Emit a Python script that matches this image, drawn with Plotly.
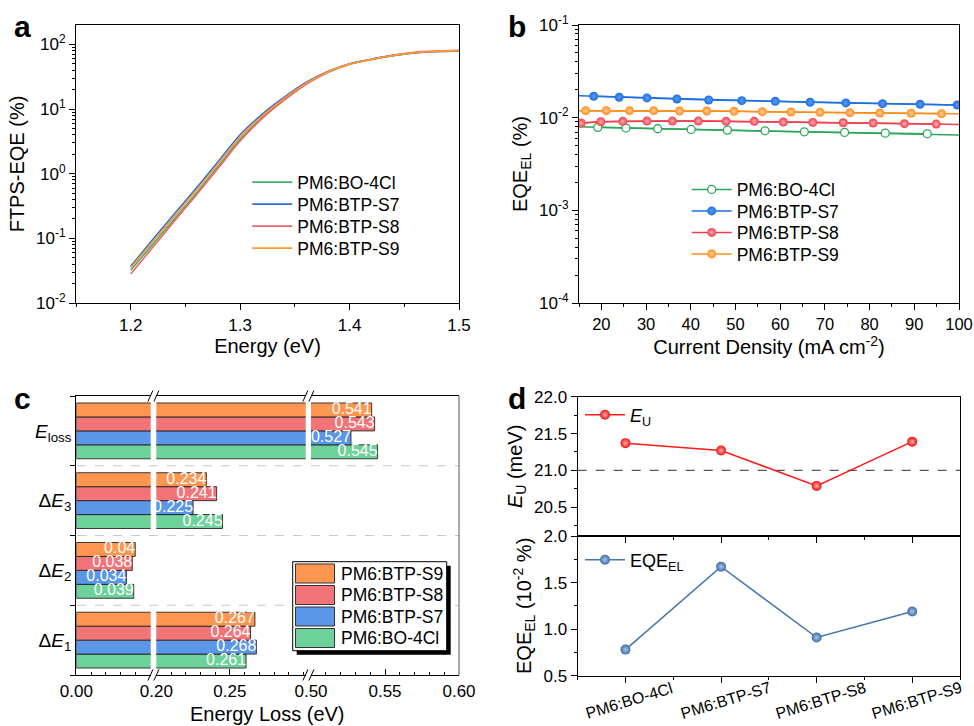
import plotly.graph_objects as go

W, H = 974, 726          # picture size (reference pixel coordinates)
FONT = "Liberation Sans, Arial, Helvetica, sans-serif"

series_names = ["PM6:BO-4Cl", "PM6:BTP-S7", "PM6:BTP-S8", "PM6:BTP-S9"]

# ---------------- Panel a: FTPS-EQE ----------------
ftps_energy = [1.20, 1.22, 1.24, 1.26, 1.28, 1.30, 1.32, 1.34, 1.36, 1.38, 1.40, 1.42, 1.44, 1.46, 1.48, 1.50]
ftps_bo4cl = [0.032, 0.080, 0.20, 0.50, 1.30, 3.4, 7.4, 14.0, 24.5, 37.0, 49.5, 58.5, 67.0, 74.0, 77.5, 79.5]
ftps_s7 = [0.037, 0.095, 0.24, 0.60, 1.55, 4.0, 8.3, 15.1, 25.7, 38.0, 50.1, 58.9, 67.6, 74.1, 77.6, 79.4]
ftps_s8 = [0.028, 0.072, 0.185, 0.47, 1.22, 3.2, 7.1, 13.6, 24.0, 36.8, 49.5, 59.0, 68.5, 75.5, 79.0, 81.0]
ftps_s9 = [0.035, 0.088, 0.22, 0.55, 1.42, 3.7, 7.8, 14.5, 25.0, 37.5, 49.5, 58.5, 67.5, 74.5, 78.0, 80.0]
ftps_tickvals = [0.01, 0.1, 1, 10, 100]
ftps_ticktext = ["10<sup>-2</sup>", "10<sup>-1</sup>", "10<sup>0</sup>", "10<sup>1</sup>", "10<sup>2</sup>"]

# ---------------- Panel b: EQE_EL vs current density ----------------
el_bo4cl_j = [19.2, 25.5, 32.6, 40.1, 48.2, 56.6, 65.4, 74.4, 83.5, 92.9]
el_bo4cl_eqe = [0.00786, 0.00773, 0.00759, 0.00746, 0.00734, 0.00722, 0.00704, 0.00693, 0.00681, 0.00670]
el_s7_j = [18.3, 24.0, 30.2, 36.9, 44.0, 51.4, 58.9, 66.7, 74.7, 82.9, 91.3, 99.6]
el_s7_eqe = [0.01702, 0.01660, 0.01633, 0.01592, 0.01553, 0.01527, 0.01502, 0.01466, 0.01442, 0.01417, 0.01394, 0.01371]
el_s8_j = [15.5, 19.9, 24.8, 30.2, 35.9, 41.7, 47.9, 54.2, 60.7, 67.3, 74.1, 80.8, 87.8, 94.9]
el_s8_eqe = [0.00875, 0.00903, 0.00912, 0.00919, 0.00919, 0.00919, 0.00912, 0.00912, 0.00897, 0.00889, 0.00881, 0.00875, 0.00861, 0.00853]
el_s9_j = [16.5, 21.1, 26.3, 31.7, 37.5, 43.6, 49.7, 56.0, 62.4, 68.9, 75.6, 82.3, 89.3, 96.1]
el_s9_eqe = [0.01190, 0.01190, 0.01190, 0.01190, 0.01180, 0.01180, 0.01170, 0.01161, 0.01151, 0.01142, 0.01133, 0.01124, 0.01114, 0.01105]
# line ends at the axis limits (J = 15 and 100)
el_line_ends_j = [15, 100]
el_bo4cl_ends = [0.00800, 0.00652]
el_s7_ends = [0.01720, 0.01368]
el_s8_ends = [0.00875, 0.00846]
el_s9_ends = [0.01190, 0.01100]
el_tickvals = [0.0001, 0.001, 0.01, 0.1]
el_ticktext = ["10<sup>-4</sup>", "10<sup>-3</sup>", "10<sup>-2</sup>", "10<sup>-1</sup>"]

# ---------------- Panel c: energy loss ----------------
loss_labels = ["Δ<i>E</i><sub>1</sub>", "Δ<i>E</i><sub>2</sub>", "Δ<i>E</i><sub>3</sub>", "<i>E</i><sub>loss</sub>"]
loss_bo4cl = [0.261, 0.039, 0.245, 0.545]
loss_s7 = [0.268, 0.034, 0.225, 0.527]
loss_s8 = [0.264, 0.038, 0.241, 0.543]
loss_s9 = [0.267, 0.040, 0.234, 0.541]

# ---------------- Panel d: Urbach energy and EQE_EL ----------------
eu_values = [21.37, 21.27, 20.79, 21.39]
eqe_el_values = [0.78, 1.67, 0.91, 1.19]
eu_reference = 21.0

# ---------------- helpers (reference pixels -> paper fractions) ----------------
def px(x):
    return x / W

def py(y):
    return 1 - y / H

def xd(p0, p1):
    return [px(p0), px(p1)]

def yd(top, bot):
    return [py(bot), py(top)]

def log_minor(e0, e1):
    return [k * 10.0 ** e for e in range(e0, e1) for k in range(2, 10)]

tickfont = dict(family=FONT, size=17, color="black")
titlefont = dict(family=FONT, size=20, color="black")

fig = go.Figure()
legends = {}
leg_common = dict(xanchor="left", yanchor="top", bgcolor="rgba(0,0,0,0)", itemwidth=40, tracegroupgap=0)

def add_legend(key, x_line, y_center, size):
    legends[key] = dict(x=px(x_line - 6), y=py(y_center - 18.5),
                        font=dict(family=FONT, size=size, color="black"), **leg_common)

# ---- panel a traces ----
col_a = {"PM6:BO-4Cl": "#3DB36B", "PM6:BTP-S7": "#2F6FDB", "PM6:BTP-S8": "#F0636A", "PM6:BTP-S9": "#FF9A2E"}
leg_a_rows = [182.7, 204.7, 226.7, 248.7]
for i, (name, vals) in enumerate(zip(series_names, [ftps_bo4cl, ftps_s7, ftps_s8, ftps_s9])):
    lk = "legend" if i == 0 else f"legend{i + 1}"
    add_legend(lk, 253.3, leg_a_rows[i], 17.5)
    fig.add_trace(go.Scatter(x=ftps_energy, y=vals, mode="lines", name=name,
                             line=dict(color=col_a[name], width=1.6, shape="spline"),
                             xaxis="x", yaxis="y", legend=lk))

# ---- panel b traces ----
col_b = {"PM6:BO-4Cl": "#2EA65A", "PM6:BTP-S7": "#1E6FE0", "PM6:BTP-S8": "#EE3F4A", "PM6:BTP-S9": "#FF8C1A"}
tint_b = {"PM6:BO-4Cl": "#FFFFFF", "PM6:BTP-S7": "#5C9AF0", "PM6:BTP-S8": "#FFB0B5", "PM6:BTP-S9": "#FFD09A"}
b_data = [(el_bo4cl_j, el_bo4cl_eqe, el_bo4cl_ends), (el_s7_j, el_s7_eqe, el_s7_ends),
          (el_s8_j, el_s8_eqe, el_s8_ends), (el_s9_j, el_s9_eqe, el_s9_ends)]
leg_b_rows = [190.0, 211.5, 233.0, 254.5]
for i, (name, (jx, ey, ends)) in enumerate(zip(series_names, b_data)):
    c = col_b[name]
    lk = f"legend{i + 5}"
    add_legend(lk, 692.7, leg_b_rows[i], 17.5)
    fig.add_trace(go.Scatter(x=[el_line_ends_j[0]] + jx + [el_line_ends_j[1]],
                             y=[ends[0]] + ey + [ends[1]], mode="lines",
                             line=dict(color=c, width=1.5), showlegend=False,
                             hoverinfo="skip", xaxis="x2", yaxis="y2"))
    if name == "PM6:BO-4Cl":
        mk = dict(size=8, color="white", line=dict(color=c, width=1.3))
    else:
        mk = dict(size=9, color=c, line=dict(width=0),
                  gradient=dict(type="radial", color=tint_b[name]))
    fig.add_trace(go.Scatter(x=jx, y=ey, mode="lines+markers", name=name,
                             line=dict(color=c, width=1.5), marker=mk,
                             xaxis="x2", yaxis="y2", legend=lk))

# ---- panel c traces ----
col_c = {"PM6:BO-4Cl": "#6DD19A", "PM6:BTP-S7": "#5A97E8", "PM6:BTP-S8": "#F27479", "PM6:BTP-S9": "#FF9650"}
c_vals = {"PM6:BO-4Cl": loss_bo4cl, "PM6:BTP-S7": loss_s7, "PM6:BTP-S8": loss_s8, "PM6:BTP-S9": loss_s9}
bar_w = 0.2
offsets = {"PM6:BO-4Cl": -0.3, "PM6:BTP-S7": -0.1, "PM6:BTP-S8": 0.1, "PM6:BTP-S9": 0.3}
segs = [
    dict(ax="x3", rng=[0.0, 0.0505], dom=(76.3, 150.7), ticks=[0.0]),
    dict(ax="x4", rng=[0.2, 0.3015], dom=(156.3, 305.7), ticks=[0.2, 0.25]),
    dict(ax="x5", rng=[0.5, 0.6], dom=(311.0, 459.0), ticks=[0.5, 0.55, 0.6]),
]
group_pos = list(range(len(loss_labels)))
for seg in segs:
    for name in series_names:
        vals = c_vals[name]
        ypos = [g + offsets[name] for g in group_pos]
        fig.add_trace(go.Bar(x=vals, y=ypos, orientation="h", width=bar_w,
                             marker=dict(color=col_c[name], line=dict(color="rgba(30,30,30,0.85)", width=1)),
                             showlegend=False, hoverinfo="skip",
                             xaxis=seg["ax"], yaxis="y3"))
    for name in series_names:
        vals = c_vals[name]
        tx, ty, tt = [], [], []
        for g, v in zip(group_pos, vals):
            if seg["rng"][0] <= v <= seg["rng"][1]:
                tx.append(v)
                ty.append(g + offsets[name])
                tt.append(f"{v:g}")
        if tx:
            fig.add_trace(go.Scatter(x=tx, y=ty, mode="text", text=tt, textposition="middle left",
                                     textfont=dict(family=FONT, size=16, color="white"),
                                     showlegend=False, hoverinfo="skip", cliponaxis=False,
                                     xaxis=seg["ax"], yaxis="y3"))

# ---- panel d traces ----
d_x = list(range(len(series_names)))
add_legend("legend9", 586, 415, 18)
add_legend("legend10", 586, 560, 18)
fig.add_trace(go.Scatter(x=d_x, y=eu_values, mode="lines+markers", name="<i>E</i><sub>U</sub>",
                         line=dict(color="#FF1A1A", width=1.5),
                         marker=dict(size=10, color="#F01010", gradient=dict(type="radial", color="#FFB0B0")),
                         xaxis="x6", yaxis="y6", legend="legend9"))
fig.add_trace(go.Scatter(x=d_x, y=eqe_el_values, mode="lines+markers", name="EQE<sub>EL</sub>",
                         line=dict(color="#4676AE", width=1.5),
                         marker=dict(size=10, color="#3D6DA8", gradient=dict(type="radial", color="#A9C4E6")),
                         xaxis="x7", yaxis="y7", legend="legend10"))

# ---------------- layout ----------------
common = dict(showline=True, linecolor="black", linewidth=1.2, mirror=True, showgrid=False,
              zeroline=False, tickfont=tickfont, ticklen=6, tickwidth=1.2, tickcolor="black",
              automargin=False)

layout = dict(
    width=W, height=H, margin=dict(l=0, r=0, t=0, b=0, autoexpand=False),
    paper_bgcolor="white", plot_bgcolor="rgba(0,0,0,0)",
    font=dict(family=FONT, color="black"),
    barmode="overlay",
    # panel a
    xaxis=dict(domain=xd(76, 459), anchor="y", range=[1.15, 1.5], tickvals=[1.2, 1.3, 1.4, 1.5],
               ticks="outside", minor=dict(dtick=0.05, tick0=1.15, ticks="outside", ticklen=3, tickcolor="black"),
               title=dict(text="Energy (eV)", font=titlefont, standoff=4), **common),
    yaxis=dict(domain=yd(25, 303), anchor="x", type="log", range=[-2, 2.3],
               tickvals=ftps_tickvals, ticktext=ftps_ticktext, ticks="outside",
               minor=dict(tickmode="array", tickvals=log_minor(-2, 3), ticks="outside", ticklen=3,
                          tickcolor="black", tickwidth=1),
               title=dict(text="FTPS-EQE (%)", font=titlefont, standoff=6), **common),
    # panel b
    xaxis2=dict(domain=xd(579, 959), anchor="y2", range=[15, 100], dtick=10, tick0=0,
                ticks="outside", ticklabeloverflow="allow",
                minor=dict(dtick=5, tick0=0, ticks="outside", ticklen=3, tickcolor="black"),
                title=dict(text="Current Density (mA cm<sup>-2</sup>)", font=titlefont, standoff=4),
                **{**common, "tickfont": dict(family=FONT, size=16.5, color="black")}),
    yaxis2=dict(domain=yd(25, 303), anchor="x2", type="log", range=[-4, -1],
                tickvals=el_tickvals, ticktext=el_ticktext, ticks="outside",
                minor=dict(tickmode="array", tickvals=log_minor(-4, -1), ticks="outside", ticklen=3,
                           tickcolor="black", tickwidth=1),
                title=dict(text="EQE<sub>EL</sub> (%)", font=titlefont, standoff=6), **common),
    # panel c
    yaxis3=dict(domain=yd(396, 675), anchor="x3", range=[-0.5, 3.5], tickvals=group_pos,
                ticktext=loss_labels, ticks="outside", ticklen=0, showline=True, linecolor="black",
                linewidth=1.2, showgrid=False, zeroline=False, automargin=False,
                tickfont=dict(family=FONT, size=19, color="black"),
                minor=dict(tick0=0.5, dtick=1, ticks="outside", ticklen=5, tickcolor="black")),
    # panel d
    xaxis6=dict(domain=xd(577.7, 960), anchor="y6", range=[-0.5, 3.5], tickvals=d_x, showticklabels=False,
                ticks="outside", minor=dict(dtick=0.5, tick0=0, ticks="outside", ticklen=3, tickcolor="black"),
                **common),
    yaxis6=dict(domain=yd(396.7, 536), anchor="x6", range=[20.11, 22.0], tickvals=[20.5, 21.0, 21.5, 22.0],
                tickformat=".1f", ticks="outside",
                minor=dict(dtick=0.25, tick0=0, ticks="outside", ticklen=3, tickcolor="black"),
                title=dict(text="<i>E</i><sub>U</sub> (meV)", font=titlefont, standoff=6), **common),
    xaxis7=dict(domain=xd(577.7, 960), anchor="y7", range=[-0.5, 3.5], tickvals=d_x, showticklabels=False,
                ticks="outside",
                minor=dict(dtick=0.5, tick0=0, ticks="outside", ticklen=3, tickcolor="black"),
                **common),
    yaxis7=dict(domain=yd(536, 675.7), anchor="x7", range=[0.5, 2.0], tickvals=[0.5, 1.0, 1.5, 2.0],
                tickformat=".1f", ticks="outside",
                minor=dict(dtick=0.25, tick0=0, ticks="outside", ticklen=3, tickcolor="black"),
                title=dict(text="EQE<sub>EL</sub> (10<sup>-2</sup> %)", font=titlefont, standoff=6), **common),
)
layout.update(legends)
for seg in segs:
    key = "xaxis" + seg["ax"][1:]
    layout[key] = dict(domain=xd(*seg["dom"]), anchor="y3", range=seg["rng"], tickvals=seg["ticks"],
                       tickformat=".2f", ticks="inside",
                       minor=dict(dtick=0.01, tick0=0, ticks="inside", ticklen=3, tickcolor="black"),
                       **common)
fig.update_layout(**layout)

shapes = []
annotations = []

# panel c: dashed separators between groups
for yb in [0.5, 1.5, 2.5]:
    shapes.append(dict(type="line", xref="paper", yref="y3", x0=px(77), x1=px(459), y0=yb, y1=yb,
                       line=dict(color="#C8C8C8", width=1, dash="dash"), layer="above"))
# panel c: right border
shapes.append(dict(type="line", xref="paper", yref="paper", x0=px(459), x1=px(459), y0=py(396), y1=py(675),
                   line=dict(color="#707070", width=1.2)))
# panel c: axis break marks
for xb in [153.4, 308.4]:
    for yb in [396, 675]:
        for c in (xb - 3, xb + 3):
            shapes.append(dict(type="line", xref="paper", yref="paper",
                               x0=px(c - 2.5), y0=py(yb + 5.5), x1=px(c + 2.5), y1=py(yb - 5.5),
                               line=dict(color="black", width=1)))
# panel c: legend with shadow
shapes.append(dict(type="rect", xref="paper", yref="paper", x0=px(296.7), y0=py(654.7), x1=px(450.7), y1=py(565.7),
                   fillcolor="black", line=dict(width=0)))
shapes.append(dict(type="rect", xref="paper", yref="paper", x0=px(292.7), y0=py(650.7), x1=px(446.7), y1=py(561.7),
                   fillcolor="white", line=dict(color="black", width=1)))
for i, name in enumerate(reversed(series_names)):
    top = 564 + i * 21.5
    shapes.append(dict(type="rect", xref="paper", yref="paper", x0=px(295.5), x1=px(334.5),
                       y0=py(top + 19), y1=py(top), fillcolor=col_c[name],
                       line=dict(color="#333333", width=1)))
    annotations.append(dict(text=name, xref="paper", yref="paper", x=px(339), y=py(top + 9.5),
                            xanchor="left", yanchor="middle", showarrow=False,
                            font=dict(family=FONT, size=17.5, color="black")))
# panel c: x-axis title
annotations.append(dict(text="Energy Loss (eV)", xref="paper", yref="paper", x=px(267.5), y=py(714),
                        xanchor="center", yanchor="middle", showarrow=False, font=titlefont))
# panel d: dashed reference line
shapes.append(dict(type="line", xref="x6 domain", yref="y6", x0=0, x1=1, y0=eu_reference, y1=eu_reference,
                   line=dict(color="#555555", width=1.2, dash="dash"), layer="below"))
# panel d: rotated category labels
for xi, name in zip(d_x, series_names):
    annotations.append(dict(text=name, xref="x7", yref="paper", x=xi, y=py(700), xshift=4,
                            xanchor="center", yanchor="middle", textangle=-17, showarrow=False,
                            font=dict(family=FONT, size=16, color="black")))
# panel labels
for lab, lx, ly in [("a", 12, 26), ("b", 506, 26), ("c", 12, 399), ("d", 506, 399)]:
    annotations.append(dict(text=f"<b>{lab}</b>", xref="paper", yref="paper", x=px(lx), y=py(ly),
                            xanchor="left", yanchor="middle", showarrow=False,
                            font=dict(family=FONT, size=30, color="black")))

fig.update_layout(shapes=shapes, annotations=annotations)
# remove the default page margin so the 974x726 figure fills the window exactly; hide the modebar
fig.write_html("out.html", config={"displayModeBar": False},
               post_script="document.body.style.margin='0px';")
